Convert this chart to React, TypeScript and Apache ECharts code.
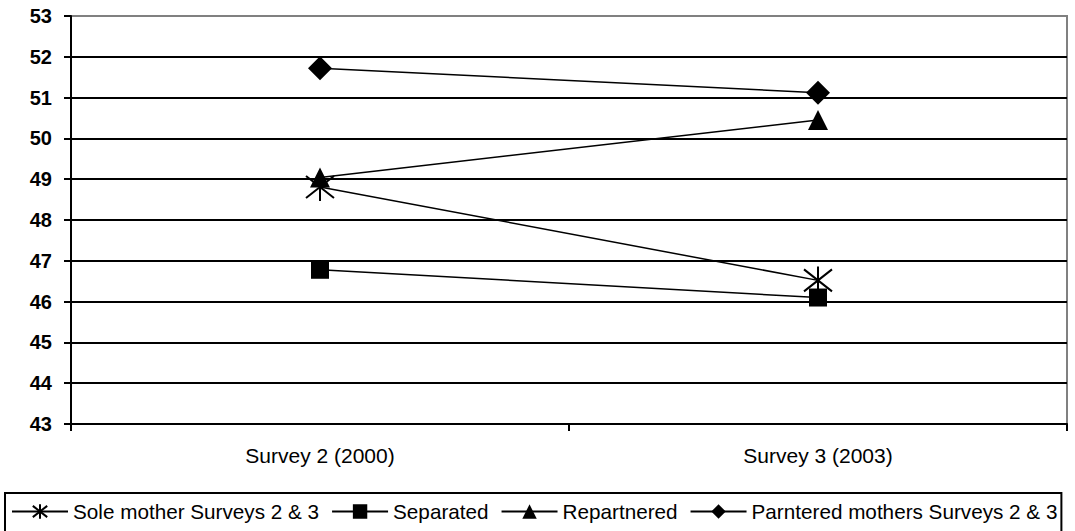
import React, { useEffect, useRef } from "react";
import * as echarts from "echarts";

const categories = ["Survey 2 (2000)", "Survey 3 (2003)"];
const soleMother = [48.81, 46.52];
const separated = [46.78, 46.1];
const repartnered = [49.04, 50.45];
const partnered = [51.72, 51.12];
const seriesNames = [
  "Sole mother Surveys 2 & 3",
  "Separated",
  "Repartnered",
  "Parntered mothers Surveys 2 & 3",
];

const starPath = "path://M0,3 L24,25 M24,3 L0,25 M12,0 L12,28";

export default function App() {
  const ref = useRef<HTMLDivElement>(null);
  useEffect(() => {
    if (!ref.current) return;
    const chart = echarts.init(ref.current, null, { renderer: "svg" });
    const font = "'Liberation Sans', Arial, sans-serif";
    const splitColors = Array.from({ length: 11 }, (_, i) => (i === 10 ? "#808080" : "#000"));
    const mk = (name: string, data: number[], symbol: string, size: number, extra: any = {}) => ({
      name,
      type: "line",
      data,
      symbol,
      symbolSize: size,
      lineStyle: { color: "#000", width: 1.5 },
      itemStyle: { color: "#000", ...extra },
      emphasis: { disabled: true },
    });
    chart.setOption({
      animation: false,
      textStyle: { fontFamily: font },
      grid: {
        left: 71,
        right: 8,
        top: 16,
        bottom: 107,
        show: true,
        borderColor: "#808080",
        borderWidth: 2,
      },
      xAxis: {
        type: "category",
        data: categories,
        boundaryGap: true,
        axisLine: { lineStyle: { color: "#000", width: 2 } },
        axisTick: { show: true, length: 7, lineStyle: { color: "#000", width: 2 } },
        axisLabel: { color: "#000", fontSize: 21, margin: 21, fontFamily: font },
        splitLine: { show: false },
      },
      yAxis: {
        type: "value",
        min: 43,
        max: 53,
        interval: 1,
        axisLine: { show: true, lineStyle: { color: "#000", width: 2 } },
        axisTick: { show: true, length: 7, lineStyle: { color: "#000", width: 2 } },
        axisLabel: { color: "#000", fontSize: 20, fontWeight: "bold", margin: 19, fontFamily: font },
        splitLine: { show: true, lineStyle: { color: splitColors, width: 2 } },
      },
      legend: {
        left: 5,
        top: 493,
        padding: [8, 4, 10, 6],
        itemGap: 12,
        itemWidth: 56,
        itemHeight: 18,
        borderColor: "#000",
        borderWidth: 2,
        textStyle: { color: "#000", fontSize: 20.7, fontFamily: font },
        data: seriesNames,
      },
      series: [
        mk(seriesNames[0], soleMother, starPath, 28, { color: "none", borderColor: "#000", borderWidth: 2 }),
        mk(seriesNames[1], separated, "rect", 18),
        mk(seriesNames[2], repartnered, "triangle", 20),
        mk(seriesNames[3], partnered, "diamond", 24),
      ],
    });
    return () => chart.dispose();
  }, []);
  return <div ref={ref} style={{ width: 1075, height: 531, position: "absolute", left: 0, top: 0 }} />;
}
